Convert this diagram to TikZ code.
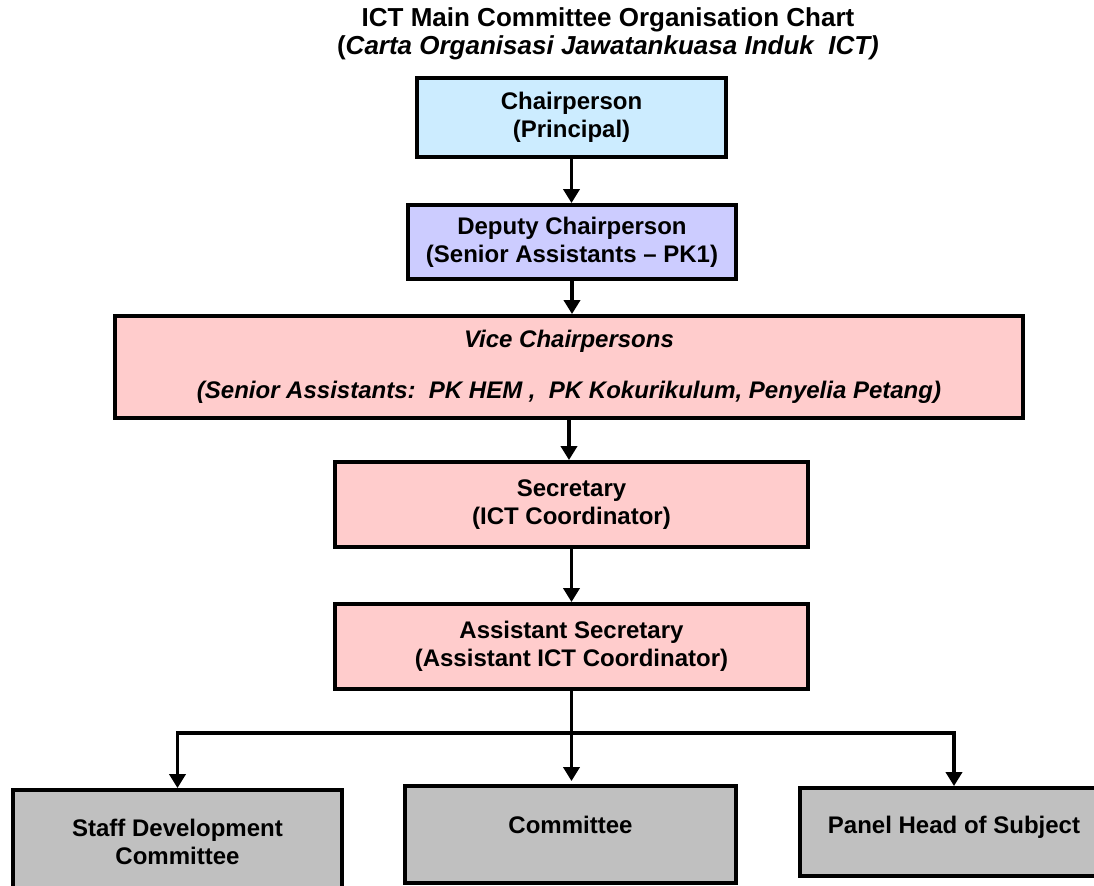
\documentclass[tikz,border=0pt]{standalone}
\usepackage{fontspec}
\setmainfont{Liberation Sans}
\usetikzlibrary{arrows.meta, positioning}
\definecolor{chairblue}{RGB}{204,236,255}
\definecolor{deputyblue}{RGB}{204,204,255}
\definecolor{boxpink}{RGB}{255,204,204}
\definecolor{boxgrey}{RGB}{192,192,192}

\begin{document}
\begin{tikzpicture}[x=0.5pt, y=-0.5pt, font=\bfseries\fontsize{12}{14}\selectfont,
        unit/.style={draw, rectangle, line width=1.9pt, align=center, inner sep=0pt},
        link/.style={-{Triangle[length=7pt, width=8pt]}, line width=1.9pt}]
        \useasboundingbox (0,0) rectangle (1094,886);
        \node[align=center, font=\bfseries\fontsize{13}{14}\selectfont] (title) at (608,34)
            {ICT Main Committee Organisation Chart\\(\textit{Carta Organisasi Jawatankuasa Induk\ \ ICT)}};
        \node[unit, fill=chairblue, minimum width=154.5pt, minimum height=39.5pt] (chair) at (571.5,117.5) {Chairperson\\(Principal)};
        \node[unit, fill=deputyblue, minimum width=164pt, minimum height=37pt] (deputy) at (572,242) {Deputy Chairperson\\(Senior Assistants -- PK1)};
        \node[unit, fill=boxpink, minimum width=454pt, minimum height=51pt, font=\bfseries\itshape\fontsize{12}{14}\selectfont] (vice) at (569,367)
            {Vice Chairpersons\\[11.5pt](Senior Assistants:\ \ PK HEM ,\ \ PK Kokurikulum, Penyelia Petang)};
        \node[unit, fill=boxpink, minimum width=236.5pt, minimum height=42.5pt] (sec) at (571.5,504.5) {Secretary\\(ICT Coordinator)};
        \node[unit, fill=boxpink, minimum width=236.5pt, minimum height=42.5pt] (asst) at (571.5,646.5) {Assistant Secretary\\(Assistant ICT Coordinator)};
        % bottom row
        \node[unit, fill=boxgrey, minimum width=164.5pt, minimum height=52pt] (staff) at (177.5,842) {Staff Development\\Committee};
        \node[unit, fill=boxgrey, minimum width=165.5pt, minimum height=48.5pt, text depth=9.5pt] (comm) at (570.5,834.5) {Committee};
        \node[unit, fill=boxgrey, minimum width=154pt, minimum height=44pt, text depth=7.5pt] (panel) at (954,832) {Panel Head of Subject};
        \foreach \a/\b in {chair/deputy, deputy/vice, vice/sec, sec/asst} {
            \draw[link] (\a.south) -- (\a.south |- \b.north);
        }
        \path (asst.south) ++(0,42) coordinate (split);
        \draw[link, shorten >=1.5pt] (asst.south) -- (asst.south |- comm.north);
        \draw[link] (split) -| (staff.north);
        \draw[link] (split) -| (panel.north);
    \end{tikzpicture}
\end{document}
